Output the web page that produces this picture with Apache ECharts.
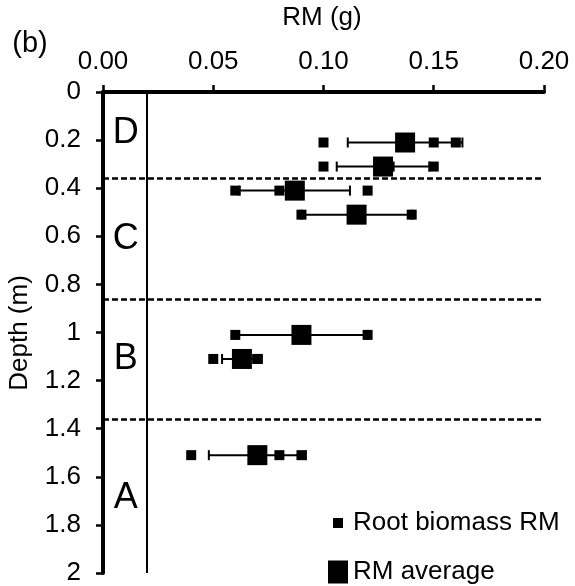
<!DOCTYPE html>
<html>
<head>
<meta charset="utf-8">
<script src="https://cdn.jsdelivr.net/npm/echarts@6/dist/echarts.min.js"></script>
<style>
  html, body { margin: 0; padding: 0; background: #fff; }
  #chart { width: 575px; height: 586px; }
</style>
</head>
<body>
<div id="chart"></div>
<script>
// Sampling depths (m) of each measurement row
const depths = [0.21, 0.31, 0.41, 0.51, 1.01, 1.11, 1.51];
// Individual root biomass readings (g) at each depth
const samples = [
  [0.10, 0.15, 0.16],
  [0.10, 0.13, 0.15],
  [0.06, 0.08, 0.12],
  [0.09, 0.14],
  [0.06, 0.12],
  [0.05, 0.07, 0.07],
  [0.04, 0.08, 0.09]
];
// Row averages (g) and standard deviations (g)
const averages = [0.137, 0.127, 0.087, 0.115, 0.090, 0.063, 0.070];
const deviations = [0.026, 0.021, 0.025, 0.025, 0.030, 0.009, 0.022];
// Soil horizon boundaries (m) and labels
const boundaries = [0.36, 0.86, 1.36];
const zoneNames = ['D', 'C', 'B', 'A'];
const zoneDepths = [0.17, 0.61, 1.11, 1.69];
const zoneX = 0.0103;
const referenceLine = 0.02;
// Axis ticks
const xTicks = [0.00, 0.05, 0.10, 0.15, 0.20];
const yTicks = [0, 0.2, 0.4, 0.6, 0.8, 1, 1.2, 1.4, 1.6, 1.8, 2];

const FONT = "'Liberation Sans', Arial, sans-serif";

const sampleData = [];
samples.forEach((row, i) => row.forEach(v => sampleData.push([v, depths[i]])));
const avgData = averages.map((m, i) => [m, depths[i]]);
const barData = averages.map((m, i) => [m - deviations[i], m + deviations[i], depths[i]]);
const zoneData = zoneNames.map((n, i) => ({ name: n, value: [zoneX, zoneDepths[i]] }));

const chart = echarts.init(document.getElementById('chart'), null, { renderer: 'canvas' });

chart.setOption({
  animation: false,
  backgroundColor: '#fff',
  grid: { left: 103, right: 31, top: 92, bottom: 12 },
  xAxis: {
    type: 'value',
    position: 'top',
    min: xTicks[0],
    max: xTicks[xTicks.length - 1],
    interval: 0.05,
    axisLine: { show: true, onZero: false, lineStyle: { color: '#000', width: 4 } },
    axisTick: { show: true, length: 7, lineStyle: { color: '#000', width: 2.5 } },
    axisLabel: {
      color: '#000', fontFamily: FONT, fontSize: 26, margin: 17,
      formatter: v => v.toFixed(2)
    },
    splitLine: { show: false }
  },
  yAxis: {
    type: 'value',
    inverse: true,
    min: yTicks[0],
    max: yTicks[yTicks.length - 1],
    interval: 0.2,
    axisLine: { show: true, onZero: false, lineStyle: { color: '#000', width: 4 } },
    axisTick: { show: true, length: 7, lineStyle: { color: '#000', width: 2.5 } },
    axisLabel: {
      color: '#000', fontFamily: FONT, fontSize: 26, margin: 22,
      formatter: v => String(+v.toFixed(1))
    },
    splitLine: { show: false }
  },
  legend: [
    {
      data: ['Root biomass RM'],
      left: 333, top: 510,
      icon: 'rect', itemWidth: 10, itemHeight: 10,
      padding: 0,
      itemStyle: { color: '#000', opacity: 1 },
      textStyle: { color: '#000', fontFamily: FONT, fontSize: 26, padding: [0, 0, 0, 5] }
    },
    {
      data: ['RM average'],
      left: 328, top: 559,
      icon: 'rect', itemWidth: 20, itemHeight: 23,
      padding: 0,
      itemStyle: { color: '#000', opacity: 1 },
      textStyle: { color: '#000', fontFamily: FONT, fontSize: 26 }
    }
  ],
  graphic: [
    {
      type: 'text', x: 322, y: 18,
      style: { text: 'RM (g)', fill: '#000', font: '26px ' + FONT, textAlign: 'center', textVerticalAlign: 'middle' }
    },
    {
      type: 'text', x: 30, y: 44,
      style: { text: '(b)', fill: '#000', font: '29px ' + FONT, textAlign: 'center', textVerticalAlign: 'middle' }
    },
    {
      type: 'text', x: 20, y: 333, rotation: Math.PI / 2,
      style: { text: 'Depth (m)', fill: '#000', font: '26px ' + FONT, textAlign: 'center', textVerticalAlign: 'middle' }
    }
  ],
  series: [
    {
      name: 'errorbars',
      type: 'custom',
      data: barData,
      encode: { x: [0, 1], y: 2 },
      z: 2,
      renderItem: (params, api) => {
        const lo = api.coord([api.value(0), api.value(2)]);
        const hi = api.coord([api.value(1), api.value(2)]);
        const cap = 5;
        const style = { stroke: '#000', lineWidth: 2 };
        return {
          type: 'group',
          children: [
            { type: 'line', shape: { x1: lo[0], y1: lo[1], x2: hi[0], y2: hi[1] }, style },
            { type: 'line', shape: { x1: lo[0], y1: lo[1] - cap, x2: lo[0], y2: lo[1] + cap }, style },
            { type: 'line', shape: { x1: hi[0], y1: hi[1] - cap, x2: hi[0], y2: hi[1] + cap }, style }
          ]
        };
      },
      markLine: {
        silent: true,
        symbol: ['none', 'none'],
        label: { show: false },
        data: boundaries.map(b => ({ yAxis: b, lineStyle: { color: '#000', width: 2.5, type: [6, 3], opacity: 1 } }))
          .concat([{ xAxis: referenceLine, lineStyle: { color: '#000', width: 2, type: 'solid', opacity: 1 } }])
      }
    },
    {
      name: 'RM average',
      type: 'scatter',
      data: avgData,
      symbol: 'rect',
      symbolSize: 20,
      itemStyle: { color: '#000', opacity: 1 },
      z: 3
    },
    {
      name: 'Root biomass RM',
      type: 'scatter',
      data: sampleData,
      symbol: 'rect',
      symbolSize: 10,
      itemStyle: { color: '#000', opacity: 1 },
      z: 4
    },
    {
      name: 'zones',
      type: 'scatter',
      data: zoneData,
      symbolSize: 0,
      silent: true,
      itemStyle: { opacity: 1 },
      label: {
        show: true, position: 'inside',
        formatter: p => p.name,
        color: '#000', opacity: 1, fontFamily: FONT, fontSize: 36
      }
    }
  ]
});
</script>
</body>
</html>
